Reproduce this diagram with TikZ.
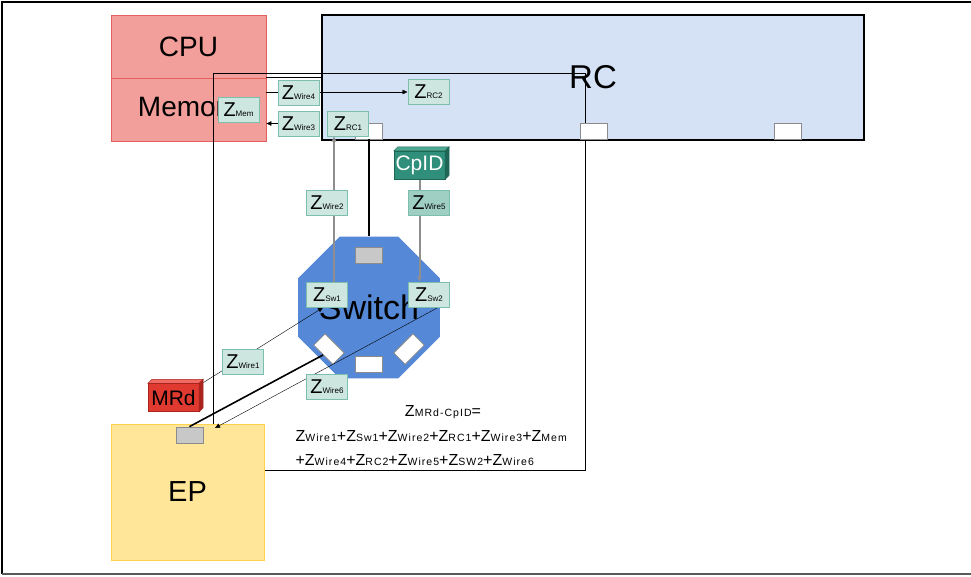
\documentclass[tikz,border=0pt]{standalone}
\usepackage{fontspec}
\setmainfont{Liberation Sans}
\newfontfamily\subfont[LetterSpace=10]{Liberation Sans}
\usetikzlibrary{arrows.meta,calc,shapes.geometric}

\definecolor{cpufill}{HTML}{F29E9A}
\definecolor{cpuline}{HTML}{E3605C}
\definecolor{rcfill}{HTML}{D5E2F5}
\definecolor{zfill}{HTML}{CDE6E0}
\definecolor{zline}{HTML}{7DBFAF}
\definecolor{zdark}{HTML}{9FCEC3}
\definecolor{cpidfill}{HTML}{2F8F7A}
\definecolor{cpidtop}{HTML}{4FA892}
\definecolor{cpidside}{HTML}{1E6656}
\definecolor{mrdfill}{HTML}{E0392F}
\definecolor{mrdtop}{HTML}{EE6A62}
\definecolor{mrdside}{HTML}{A8241C}
\definecolor{swfill}{HTML}{5588D6}
\definecolor{epfill}{HTML}{FFE699}
\definecolor{epline}{HTML}{FFD24D}
\definecolor{portgray}{HTML}{C8C8C8}
\definecolor{portline}{HTML}{8C8C8C}
\definecolor{wiregray}{HTML}{8E8E8E}

\newcommand{\zb}[1]{Z{\fontsize{8}{20}\selectfont #1}}
\newcommand{\zf}[1]{Z{\subfont\fontsize{10.5}{24}\selectfont #1}}

\pgfdeclarelayer{front}
\pgfsetlayers{main,front}

\begin{document}
\begin{tikzpicture}[x=1pt, y=-1pt, line width=0.8pt,
    hwbox/.style={draw=cpuline, fill=cpufill, minimum width=155pt, minimum height=63pt, inner sep=0pt, font=\fontsize{28}{30}\selectfont},
    zbox/.style={draw=zline, fill=zfill, line width=1pt, minimum width=41pt, minimum height=25pt, inner sep=0pt, font=\fontsize{20}{20}\selectfont},
    portbox/.style={draw=portline, fill=white, minimum width=27pt, minimum height=16pt, inner sep=0pt},
    gportbox/.style={portbox, fill=portgray},
    cube/.style={minimum width=51pt, minimum height=28pt, inner sep=0pt, font=\fontsize{21}{22}\selectfont},
    arr/.style={-{Triangle[length=5pt,width=4.5pt]}},
    wire/.style={draw=wiregray, line width=2pt}
]
\useasboundingbox (0,0) rectangle (971,576);
% frame
\draw[line width=1.2pt] (971,2) -- (2,2) -- (2,574);
\draw[line width=1.5pt, black!65] (2,574) -- (971,574);

% host side
\node[hwbox] (cpu) at (188.5,46.5) {CPU};
\node[hwbox] (mem) at (188.5,109.5) {Memory};
\node[draw, line width=1.2pt, fill=rcfill, minimum width=542pt, minimum height=125pt, inner sep=0pt, font=\fontsize{33}{34}\selectfont] (rc) at (593,77.5) {RC};
\node[draw, minimum width=372pt, minimum height=397pt] (sumframe) at (399,271.5) {};
\draw (mem.north east) -- (mem.north east -| rc.west);
\node[portbox] (rcpa) at (369,131) {};
\node[portbox] (rcpb) at (593.5,131) {};
\node[portbox] (rcpc) at (788,131) {};

% switch
\node[regular polygon, regular polygon sides=8, fill=swfill, minimum size=149pt, inner sep=0pt, font=\fontsize{34}{34}\selectfont] (switch) at (369,307.5) {Switch};
\node[gportbox] (swtop) at (369,255) {};
\node[portbox] (swbot) at (369,364) {};
\node[portbox, rotate=-45] (swbl) at (329,349) {};
\node[portbox, rotate=45] (swbr) at (409,349) {};

% endpoint
\node[draw=epline, fill=epfill, minimum width=153pt, minimum height=136pt, inner sep=0pt, font=\fontsize{29}{30}\selectfont] (ep) at (187.5,492) {EP};
\node[gportbox] (epport) at (189.5,435) {};
\coordinate (eptip) at (215,428);

\begin{pgfonlayer}{front}
\node[zbox] (zmem) at (238.5,110) {\zb{Mem}};
\node[zbox] (wfour) at (298.5,92.5) {\zb{Wire4}};
\node[zbox] (wthree) at (298.5,123.5) {\zb{Wire3}};
\node[zbox] (rcone) at (348,123.5) {\zb{RC1}};
\node[zbox] (rctwo) at (428.5,92) {\zb{RC2}};
\node[zbox] (wtwo) at (327,203) {\zb{Wire2}};
\node[zbox, fill=zdark] (wfive) at (429,203) {\zb{Wire5}};
\node[zbox] (swone) at (327,294.5) {\zb{Sw1}};
\node[zbox] (swtwo) at (429,294.5) {\zb{Sw2}};
\node[zbox] (wone) at (243,361.5) {\zb{Wire1}};
\node[zbox] (wsix) at (327,387) {\zb{Wire6}};

% 3d blocks
\node[cube, fill=cpidfill, text=white] (cpid) at (419.5,165) {CpID};
\filldraw[fill=cpidtop, draw=cpidside, line width=0.5pt] (cpid.north west) -- ++(4,-4) -- ($(cpid.north east)+(4,-4)$) -- (cpid.north east) -- cycle;
\filldraw[fill=cpidside, draw=cpidside, line width=0.5pt] (cpid.north east) -- ++(4,-4) -- ($(cpid.south east)+(4,-4)$) -- (cpid.south east) -- cycle;
\draw[cpidside, line width=0.5pt] (cpid.north west) rectangle (cpid.south east);
\node[cube, fill=mrdfill] (mrd) at (173.5,397.5) {MRd};
\filldraw[fill=mrdtop, draw=mrdside, line width=0.5pt] (mrd.north west) -- ++(4,-4) -- ($(mrd.north east)+(4,-4)$) -- (mrd.north east) -- cycle;
\filldraw[fill=mrdside, draw=mrdside, line width=0.5pt] (mrd.north east) -- ++(4,-4) -- ($(mrd.south east)+(4,-4)$) -- (mrd.south east) -- cycle;
\draw[mrdside, line width=0.5pt] (mrd.north west) rectangle (mrd.south east);
\end{pgfonlayer}

% connectors
\draw[arr] (mem.east |- rctwo.west) -- (rctwo.west);
\draw[arr] (wthree.west) -- (wthree.west -| mem.east);
\draw[wire, arr] ([xshift=7pt]swone.north) -- ([xshift=7pt]swone.north |- rcone.south);
\draw[line width=1.3pt] (rcpa.south) -- (rcpa.south |- switch.north);
\draw[wire, arr] (cpid.south) -- (cpid.south |- swtwo.north);
\draw[arr] ([xshift=3pt]mrd.north east) -- ([xshift=-4pt]swone.south);
\draw[line width=1.6pt] (swbl.south) -- (epport.north);
\draw[arr] ([xshift=9pt]swtwo.south) -- (eptip);

% sum
\node[font=\fontsize{16}{24}\selectfont] (sumhead) at (443,412) {\zf{MRd-CpID}=};
\node[anchor=west, align=left, font=\fontsize{16}{24}\selectfont] (sumbody) at (292,448) {\zf{Wire1}+\zf{Sw1}+\zf{Wire2}+\zf{RC1}+\zf{Wire3}+\zf{Mem}\\+\zf{Wire4}+\zf{RC2}+\zf{Wire5}+\zf{SW2}+\zf{Wire6}};
\end{tikzpicture}
\end{document}
